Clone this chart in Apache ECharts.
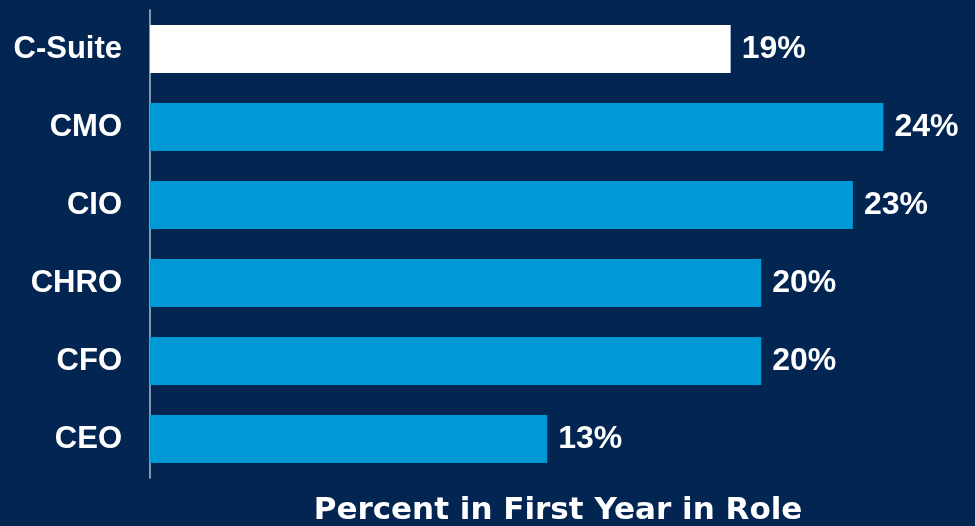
<!DOCTYPE html>
<html>
<head>
<meta charset="utf-8">
<script src="https://cdn.jsdelivr.net/npm/echarts@6/dist/echarts.min.js"></script>
<style>
  html, body { margin: 0; padding: 0; background: #022552; }
  #chart { width: 975px; height: 526px; }
</style>
</head>
<body>
<div id="chart"></div>
<script>
// Roles, top to bottom
const categories = ['C-Suite', 'CMO', 'CIO', 'CHRO', 'CFO', 'CEO'];
// Percent in first year in role
const values = [19, 24, 23, 20, 20, 13];
// Overall C-Suite bar is highlighted in white
const barColors = ['#ffffff', '#0099d6', '#0099d6', '#0099d6', '#0099d6', '#0099d6'];
const axisTitle = 'Percent in First Year in Role';

const chart = echarts.init(document.getElementById('chart'));

chart.setOption({
  backgroundColor: '#022552',
  animation: false,
  title: {
    text: axisTitle,
    left: 553,
    top: 490,
    textAlign: 'center',
    textStyle: {
      color: '#ffffff',
      fontFamily: 'DejaVu Sans',
      fontWeight: 'bold',
      fontSize: 31
    }
  },
  grid: { left: 150, top: 10, width: 764, height: 468, containLabel: false },
  xAxis: {
    type: 'value',
    min: 0,
    max: 25,
    show: false
  },
  yAxis: {
    type: 'category',
    data: categories,
    inverse: true,
    axisLine: { show: true, lineStyle: { color: '#8095ae', width: 2 } },
    axisTick: { show: false },
    axisLabel: {
      color: '#ffffff',
      fontFamily: 'Liberation Sans',
      fontWeight: 'bold',
      fontSize: 31,
      margin: 28
    },
    splitLine: { show: false }
  },
  series: [{
    type: 'bar',
    barWidth: 48,
    data: values.map((v, i) => ({ value: v, itemStyle: { color: barColors[i] } })),
    label: {
      show: true,
      position: 'right',
      distance: 11,
      color: '#ffffff',
      fontFamily: 'Liberation Sans',
      fontWeight: 'bold',
      fontSize: 32,
      formatter: p => p.value + '%'
    }
  }]
});
</script>
</body>
</html>
